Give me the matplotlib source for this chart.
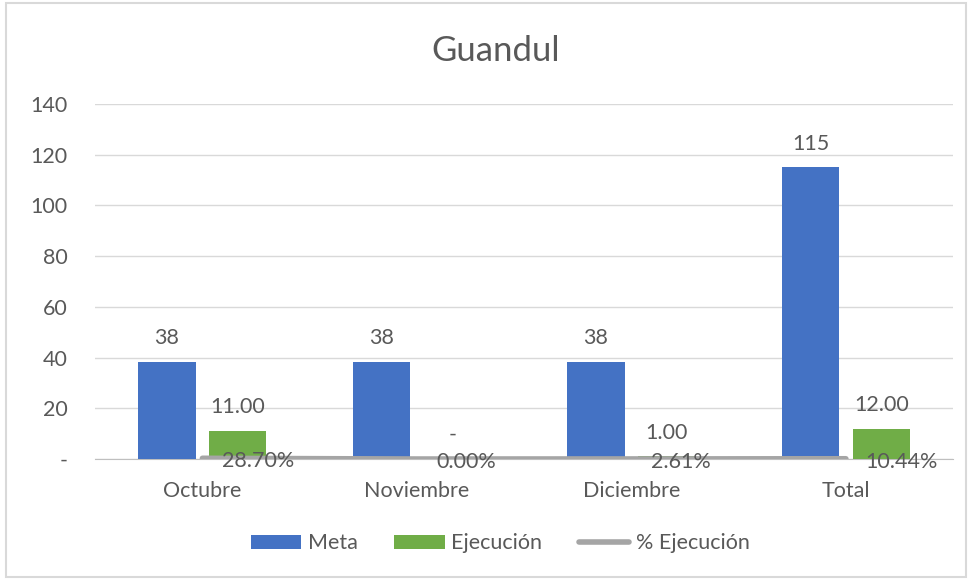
import matplotlib.pyplot as plt
from matplotlib.patches import Rectangle
import numpy as np

categories = ['Octubre', 'Noviembre', 'Diciembre', 'Total']
meta = [38.33, 38.33, 38.33, 115]
ejecucion = [11, 0, 1, 12]
pct_ejecucion = [0.2870, 0.0, 0.0261, 0.1044]
y_ticks = [0, 20, 40, 60, 80, 100, 120, 140]

plt.rcParams['font.family'] = ['Lato', 'DejaVu Sans']
text_color = '#595959'
fs = 15.5

fig = plt.figure(figsize=(9.71, 5.80), dpi=100)
ax = fig.add_axes([0.098, 0.2086, 0.8836, 0.6121])

x = np.arange(len(categories))
w = 0.266
off = 0.165
b1 = ax.bar(x - off, meta, w, color='#4472C4', label='Meta', zorder=3)
b2 = ax.bar(x + off, ejecucion, w, color='#70AD47', label='Ejecución', zorder=3)
ln, = ax.plot(x, pct_ejecucion, color='#A5A5A5', lw=4, solid_capstyle='round',
              label='% Ejecución', zorder=4)

for xi, v in zip(x, meta):
    ax.annotate(f'{v:.0f}', (xi - off, v), xytext=(0, 10), textcoords='offset points',
                ha='center', va='bottom', fontsize=fs, color=text_color)
for xi, v in zip(x, ejecucion):
    lab = '-' if v == 0 else f'{v:.2f}'
    ax.annotate(lab, (xi + off, v), xytext=(0, 10), textcoords='offset points',
                ha='center', va='bottom', fontsize=fs, color=text_color)
for xi, v in zip(x, pct_ejecucion):
    ax.annotate(f'{v*100:.2f}%', (xi, v), xytext=(14, -2), textcoords='offset points',
                ha='left', va='center', fontsize=fs, color=text_color, zorder=5)

ax.set_xlim(-0.5, 3.5)
ax.set_ylim(0, 140)
ax.set_yticks(y_ticks)
ax.set_yticklabels(['-' if t == 0 else str(t) for t in y_ticks])
ax.set_xticks(x)
ax.set_xticklabels(categories)
ax.tick_params(length=0, labelsize=fs, colors=text_color)
ax.tick_params(axis='y', pad=20)
ax.tick_params(axis='x', pad=16)
ax.grid(axis='y', color='#D9D9D9', lw=1, zorder=0)
for s in ['top', 'right', 'left']:
    ax.spines[s].set_visible(False)
ax.spines['bottom'].set_color('#BFBFBF')
ax.spines['bottom'].set_zorder(2)

fig.text(0.51, 0.912, 'Guandul', ha='center', va='center', fontsize=25, color=text_color)

leg = fig.legend(handles=[b1, b2, ln], loc='center', bbox_to_anchor=(0.515, 0.063),
                 ncol=3, frameon=False, fontsize=fs, handlelength=2.35,
                 handleheight=0.6, handletextpad=0.3, columnspacing=1.7,
                 labelcolor=text_color)

fig.patches.append(Rectangle((0.006, 0.005), 0.989, 0.99, transform=fig.transFigure,
                             fill=False, edgecolor='#D9D9D9', lw=1.5))

fig.savefig('out.png', dpi=100)
